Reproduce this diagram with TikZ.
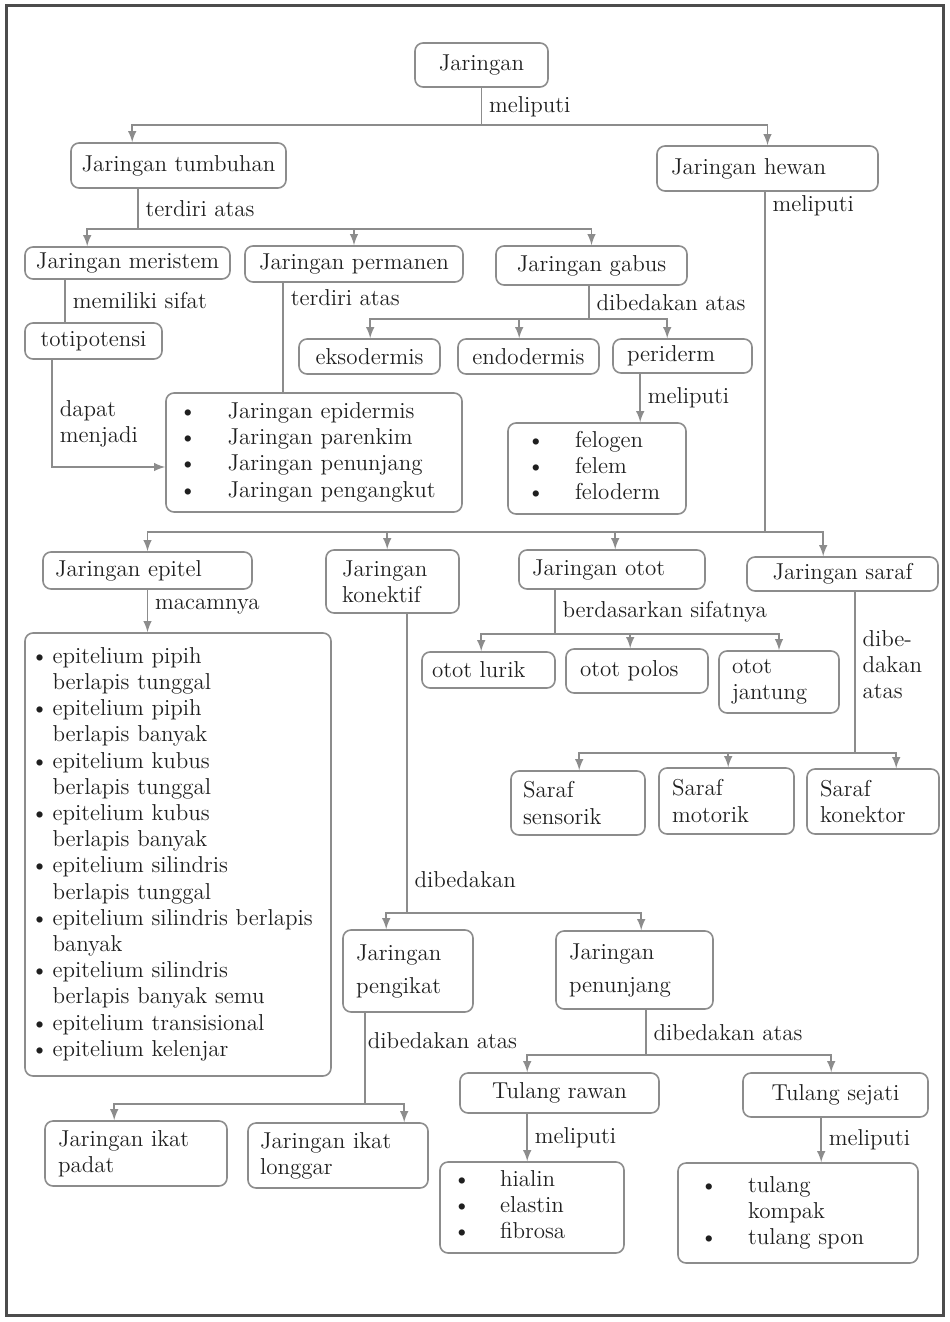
\documentclass[tikz,border=0pt]{standalone}
\usepackage{tikz}
\usetikzlibrary{arrows,calc}
\definecolor{garis}{gray}{0.55}
\definecolor{tulisan}{gray}{0.12}
\newcommand{\teks}{\fontsize{11.5}{13.1}\selectfont}
\tikzset{
  kotak/.style={draw=garis, line width=0.8pt, rounded corners=4pt, inner ysep=0pt, text=tulisan, font=\teks, align=center},
  kiri/.style={kotak, align=left},
  ket/.style={font=\teks, text=tulisan, align=left},
  hub/.style={draw=garis, line width=0.9pt}
}
\begin{document}
\begin{tikzpicture}[>=latex, x=0.5pt, y=-0.5pt]
		\useasboundingbox (0,0) rectangle (949,1322);
		\draw[line width=1.5pt, black!70] (6,6) rectangle (943,1315);
		%kotak
		\node[kotak, minimum width=66.5pt, minimum height=22pt] (jaringan) at (481.5,65) {Jaringan};
		\node[kotak, minimum width=107.5pt, minimum height=22.5pt] (tumbuhan) at (178.5,165.5) {Jaringan tumbuhan};
		\node[kiri, inner xsep=7pt, text width=96.5pt, minimum height=22.5pt] (hewan) at (767.5,168.5) {Jaringan hewan};
		\node[kotak, minimum width=102.5pt, minimum height=16pt] (meristem) at (127.5,263) {Jaringan meristem};
		\node[kotak, minimum width=109pt, minimum height=18pt] (permanen) at (354,264) {Jaringan permanen};
		\node[kotak, minimum width=95.5pt, minimum height=19.5pt] (gabus) at (591.5,265.5) {Jaringan gabus};
		\node[kotak, minimum width=68.5pt, minimum height=18pt] (totipotensi) at (93.5,341) {totipotensi};
		\node[kiri, inner xsep=6.5pt, text width=135pt, minimum height=59.5pt] (daftarPermanen) at (314,452.5) {\begin{tabular}{@{}l@{\hspace{15.5pt}}l@{}}
			\textbullet & Jaringan epidermis\\
			\textbullet & Jaringan parenkim\\
			\textbullet & Jaringan penunjang\\
			\textbullet & Jaringan pengangkut
		\end{tabular}};
		\node[kotak, minimum width=70.5pt, minimum height=17.5pt] (eksodermis) at (369.5,356.5) {eksodermis};
		\node[kotak, minimum width=70.5pt, minimum height=17.5pt] (endodermis) at (528.5,356.5) {endodermis};
		\node[kiri, inner xsep=7pt, text width=55.5pt, minimum height=17pt] (periderm) at (682.5,356) {periderm};
		\node[kiri, inner xsep=9.5pt, text width=70pt, minimum height=45.5pt] (daftarPeriderm) at (597,468.5) {\begin{tabular}{@{}l@{\hspace{15.25pt}}l@{}}
			\textbullet & felogen\\
			\textbullet & felem\\
			\textbullet & feloderm
		\end{tabular}};
		\node[kiri, inner xsep=6pt, text width=92.5pt, minimum height=18.5pt] (epitel) at (147.5,570.5) {Jaringan epitel};
		\node[kiri, inner xsep=8pt, text width=50.5pt, minimum height=31.5pt] (konektif) at (392.5,581.5) {Jaringan\\konektif};
		\node[kiri, inner xsep=6.5pt, text width=80pt, minimum height=19.5pt] (otot) at (612,569.5) {Jaringan otot};
		\node[kotak, minimum width=95.5pt, minimum height=17pt] (saraf) at (842.5,574) {Jaringan saraf};
		\node[kiri, inner xsep=5pt, text width=56.5pt, minimum height=18pt] (lurik) at (488.5,670) {otot lurik};
		\node[kiri, inner xsep=7pt, text width=57pt, minimum height=22pt] (polos) at (637,671) {otot polos};
		\node[kiri, inner xsep=6.5pt, text width=47pt, minimum height=31pt] (jantung) at (779,682) {otot\\jantung};
		\node[kiri, inner xsep=6pt, text width=55pt, minimum height=32pt] (sensorik) at (578,803) {Saraf\\sensorik};
		\node[kiri, inner xsep=6.5pt, text width=54.5pt, minimum height=33pt] (motorik) at (726.5,801) {Saraf\\motorik};
		\node[kiri, inner xsep=6.5pt, text width=53pt, minimum height=32.5pt] (konektor) at (873,801.5) {Saraf\\konektor};
		\node[kiri, inner xsep=3pt, text width=147pt, minimum height=221.5pt] (daftarEpitel) at (178,854.5) {\begin{tabular}{@{}l@{\hspace{2pt}}l@{}}
			\textbullet & epitelium pipih\\
			 & berlapis tunggal\\
			\textbullet & epitelium pipih\\
			 & berlapis banyak\\
			\textbullet & epitelium kubus\\
			 & berlapis tunggal\\
			\textbullet & epitelium kubus\\
			 & berlapis banyak\\
			\textbullet & epitelium silindris\\
			 & berlapis tunggal\\
			\textbullet & epitelium silindris berlapis\\
			 & banyak\\
			\textbullet & epitelium silindris\\
			 & berlapis banyak semu\\
			\textbullet & epitelium transisional\\
			\textbullet & epitelium kelenjar
		\end{tabular}};
		\node[kiri, inner xsep=6.5pt, text width=52pt, minimum height=41pt] (pengikat) at (408,971) {Jaringan\\[3.4pt]pengikat};
		\node[kiri, inner xsep=6.5pt, text width=65.5pt, minimum height=39pt] (penunjang) at (634.5,970) {Jaringan\\[3.4pt]penunjang};
		\node[kiri, inner xsep=6.5pt, text width=78pt, minimum height=32.5pt] (padat) at (136,1153.5) {Jaringan ikat\\padat};
		\node[kiri, inner xsep=6pt, text width=78pt, minimum height=32.5pt] (longgar) at (338,1155.5) {Jaringan ikat\\longgar};
		\node[kotak, minimum width=99.5pt, minimum height=20pt] (rawan) at (559.5,1093) {Tulang rawan};
		\node[kotak, minimum width=92.5pt, minimum height=22pt] (sejati) at (835.5,1095) {Tulang sejati};
		\node[kiri, inner xsep=6.5pt, text width=79pt, minimum height=45.5pt] (daftarRawan) at (532,1207.5) {\begin{tabular}{@{}l@{\hspace{14.75pt}}l@{}}
			\textbullet & hialin\\
			\textbullet & elastin\\
			\textbullet & fibrosa
		\end{tabular}};
		\node[kiri, inner xsep=11pt, text width=98pt, minimum height=50pt] (daftarSejati) at (798,1213) {\begin{tabular}{@{}l@{\hspace{15.25pt}}l@{}}
			\textbullet & tulang\\
			 & kompak\\
			\textbullet & tulang spon
		\end{tabular}};
		%jaringan
		\coordinate (cabA) at (481.5,125);
		\draw[hub] (jaringan) -- (cabA) node[ket, pos=0.5, right] {meliputi};
		\draw[hub,->] (cabA) -| ($(tumbuhan.north west)+(62,0)$);
		\draw[hub,->] (cabA) -| (hewan.north);
		%tumbuhan
		\coordinate (cabB) at (138,229);
		\draw[hub] (tumbuhan.south -| cabB) -- (cabB) node[ket, pos=0.5, right] {terdiri atas};
		\draw[hub,->] (cabB) -| ($(meristem.north west)+(63,0)$);
		\draw[hub,->] (cabB) -| (permanen.north);
		\draw[hub,->] (cabB) -| (gabus.north);
		\draw[hub] ($(meristem.south west)+(41,0)$) -- ($(totipotensi.north west)+(41,0)$) node[ket, pos=0.5, right] {memiliki sifat};
		\draw[hub,->] ($(totipotensi.south west)+(28,0)$) |- ($(daftarPermanen.west)+(0,14.5)$) node[ket, pos=0.3, right] {dapat\\menjadi};
		\draw[hub] ($(permanen.south west)+(39,0)$) -- ($(daftarPermanen.north west)+(118,0)$) node[ket, pos=0.14, right] {terdiri atas};
		\coordinate (cabD) at (589,319);
		\draw[hub] (gabus.south -| cabD) -- (cabD) node[ket, pos=0.5, right] {dibedakan atas};
		\draw[hub,->] (cabD) -| ($(eksodermis.north west)+(72,0)$);
		\draw[hub,->] (cabD) -| ($(endodermis.north west)+(62,0)$);
		\draw[hub,->] (cabD) -| ($(periderm.north west)+(55,0)$);
		\draw[hub,->] ($(periderm.south west)+(28,0)$) -- ($(daftarPeriderm.north west)+(133,0)$) node[ket, pos=0.5, right] {meliputi};
		%hewan
		\coordinate (cabE) at (765,532);
		\draw[hub] (hewan.south -| cabE) -- (cabE) node[ket, pos=0.04, right] {meliputi};
		\draw[hub,->] (cabE) -| (epitel.north);
		\draw[hub,->] (cabE) -| ($(konektif.north west)+(62,0)$);
		\draw[hub,->] (cabE) -| ($(otot.north west)+(97,0)$);
		\draw[hub,->] (cabE) -| ($(saraf.north west)+(77,0)$);
		\draw[hub,->] (epitel.south) -- (epitel.south |- daftarEpitel.north) node[ket, pos=0.39, right] {macamnya};
		\coordinate (cabF) at (555,634);
		\draw[hub] (otot.south -| cabF) -- (cabF) node[ket, pos=0.5, right] {berdasarkan sifatnya};
		\draw[hub,->] (cabF) -| ($(lurik.north west)+(60,0)$);
		\draw[hub,->] (cabF) -| ($(polos.north west)+(65,0)$);
		\draw[hub,->] (cabF) -| (jantung.north);
		\coordinate (cabG) at (855,753);
		\draw[hub] (saraf.south -| cabG) -- (cabG) node[ket, pos=0.45, right] {dibe-\\dakan\\atas};
		\draw[hub,->] (cabG) -| ($(sensorik.north west)+(69,0)$);
		\draw[hub,->] (cabG) -| ($(motorik.north west)+(70,0)$);
		\draw[hub,->] (cabG) -| ($(konektor.north west)+(90,0)$);
		\coordinate (cabH) at (407,913);
		\draw[hub] (konektif.south -| cabH) -- (cabH) node[ket, pos=0.89, right] {dibedakan};
		\draw[hub,->] (cabH) -| ($(pengikat.north west)+(44,0)$);
		\draw[hub,->] (cabH) -| ($(penunjang.north west)+(86,0)$);
		\coordinate (cabI) at (365,1104);
		\draw[hub] (pengikat.south -| cabI) -- (cabI) node[ket, pos=0.3, right, inner sep=1pt] {dibedakan atas};
		\draw[hub,->] (cabI) -| ($(padat.north west)+(70,0)$);
		\draw[hub,->] (cabI) -| ($(longgar.north west)+(157,0)$);
		\coordinate (cabJ) at (646,1055);
		\draw[hub] (penunjang.south -| cabJ) -- (cabJ) node[ket, pos=0.5, right] {dibedakan atas};
		\draw[hub,->] (cabJ) -| ($(rawan.north west)+(68,0)$);
		\draw[hub,->] (cabJ) -| ($(sejati.north west)+(89,0)$);
		\draw[hub,->] ($(rawan.south west)+(68,0)$) -- ($(daftarRawan.north west)+(88,0)$) node[ket, pos=0.5, right] {meliputi};
		\draw[hub,->] ($(sejati.south west)+(79,0)$) -- ($(daftarSejati.north west)+(144,0)$) node[ket, pos=0.5, right] {meliputi};
	\end{tikzpicture}
\end{document}
